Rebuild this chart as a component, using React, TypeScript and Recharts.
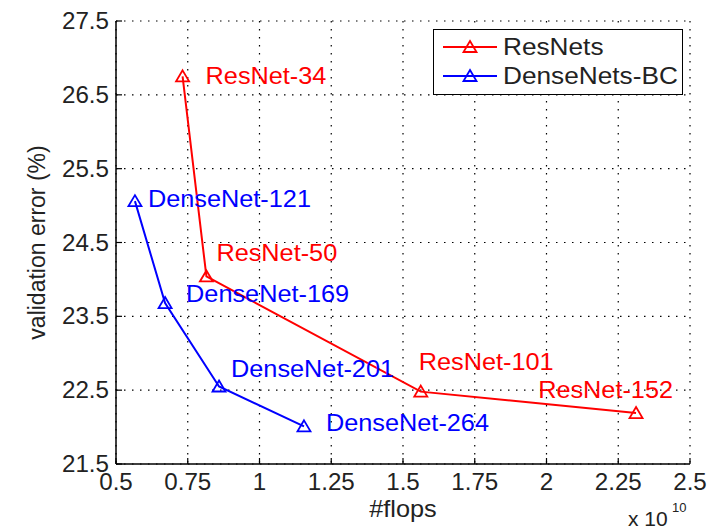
import { LineChart, Line, XAxis, YAxis, CartesianGrid, LabelList, Legend } from 'recharts';

const resnetNames = ['ResNet-34', 'ResNet-50', 'ResNet-101', 'ResNet-152'];
const resnetFlops = [0.732, 0.815, 1.562, 2.312];
const resnetError = [26.75, 24.04, 22.48, 22.19];

const densenetNames = ['DenseNet-121', 'DenseNet-169', 'DenseNet-201', 'DenseNet-264'];
const densenetFlops = [0.566, 0.671, 0.859, 1.155];
const densenetError = [25.06, 23.68, 22.55, 22.01];

const xTicks = [0.5, 0.75, 1, 1.25, 1.5, 1.75, 2, 2.25, 2.5];
const yTicks = [21.5, 22.5, 23.5, 24.5, 25.5, 26.5, 27.5];

// where each point's name sits relative to its marker: [dx, dy, anchor]
const resnetLabelPos: [number, number, string][] = [[23, 8, 'start'], [10, -15, 'start'], [-2, -22, 'start'], [37, -15, 'end']];
const densenetLabelPos: [number, number, string][] = [[13, 6, 'start'], [21, -1, 'start'], [12, -9, 'start'], [22, 5, 'start']];

const RED = '#ff0000';
const BLUE = '#0000ff';
const FONT = '"Liberation Sans", Arial, Helvetica, sans-serif';
const FS = 23;

const resnets = resnetFlops.map((f, i) => ({ flops: f, err: resnetError[i], name: resnetNames[i] }));
const densenets = densenetFlops.map((f, i) => ({ flops: f, err: densenetError[i], name: densenetNames[i] }));

function Txt({ x, y, children, anchor = 'start', fill = '#222', size = FS, sx = 1.1 }: any) {
  return (
    <text transform={`translate(${x},${y}) scale(${sx},1)`} textAnchor={anchor} fill={fill} fontSize={size} fontFamily={FONT}>
      {children}
    </text>
  );
}

function triangle(cx: number, cy: number) {
  return `M${cx},${cy - 6} L${cx + 6.5},${cy + 5} L${cx - 6.5},${cy + 5} Z`;
}

const makeDot = (color: string) => (props: any) => {
  const { cx, cy, index } = props;
  return <path key={index} d={triangle(cx, cy)} fill="none" stroke={color} strokeWidth={1.8} />;
};

const makeLabel = (names: string[], pos: [number, number, string][], color: string) => (props: any) => {
  const { x, y, index } = props;
  const [dx, dy, anchor] = pos[index];
  return (
    <Txt key={index} x={x + dx} y={y + dy} anchor={anchor} fill={color}>
      {names[index]}
    </Txt>
  );
};

const BottomTick = ({ x, y, payload }: any) => (
  <g>
    <line x1={x} x2={x} y1={y} y2={y - 6} stroke="#000" strokeWidth={1.2} />
    <Txt x={x} y={y + 26} anchor="middle" sx={1.05}>{payload.value}</Txt>
  </g>
);

const TopTick = ({ x, y }: any) => <line x1={x} x2={x} y1={y} y2={y + 6} stroke="#000" strokeWidth={1.2} />;

const LeftTick = ({ x, y, payload }: any) => (
  <g>
    <line x1={x} x2={x + 6} y1={y} y2={y} stroke="#000" strokeWidth={1.2} />
    <Txt x={x - 7} y={y + 8} anchor="end" sx={1.05}>{payload.value}</Txt>
  </g>
);

const RightTick = ({ x, y }: any) => <line x1={x} x2={x - 6} y1={y} y2={y} stroke="#000" strokeWidth={1.2} />;

const XTitle = ({ viewBox }: any) => {
  const { x, y, width } = viewBox;
  return (
    <g>
      <Txt x={x + width / 2} y={y + 53} anchor="middle">#flops</Txt>
      <Txt x={x + 512} y={y + 62} size={20} sx={1.05}>x 10</Txt>
      <Txt x={x + 556} y={y + 48} size={13} sx={1}>10</Txt>
    </g>
  );
};

const YTitle = ({ viewBox }: any) => {
  const { y, height } = viewBox;
  const cy = y + height / 2;
  return (
    <text transform={`translate(45,${cy}) rotate(-90)`} textAnchor="middle" fill="#222" fontSize={FS} fontFamily={FONT}>
      validation error (%)
    </text>
  );
};

const renderLegend = () => (
  <div style={{ width: 250, height: 66, border: '1.5px solid #000', background: '#fff', boxSizing: 'border-box' }}>
    <svg width={247} height={63} style={{ display: 'block' }}>
      <line x1={9} x2={63} y1={17} y2={17} stroke={RED} strokeWidth={2} />
      <path d={triangle(36, 17)} fill="none" stroke={RED} strokeWidth={1.8} />
      <Txt x={69} y={25} sx={1.14}>ResNets</Txt>
      <line x1={9} x2={63} y1={46} y2={46} stroke={BLUE} strokeWidth={2} />
      <path d={triangle(36, 46)} fill="none" stroke={BLUE} strokeWidth={1.8} />
      <Txt x={69} y={54} sx={1.14}>DenseNets-BC</Txt>
    </svg>
  </div>
);

export default function App() {
  return (
    <div style={{ position: 'absolute', left: 0, top: 0, background: '#fff' }}>
      <LineChart width={710} height={529} margin={{ top: 21, right: 20, bottom: 0, left: 0 }}>
        <CartesianGrid stroke="#000" strokeDasharray="1.5 6.5" strokeWidth={1.2} />
        <XAxis
          dataKey="flops"
          type="number"
          domain={[0.5, 2.5]}
          ticks={xTicks}
          interval={0}
          height={65}
          tickSize={0}
          tickMargin={0}
          tickLine={false}
          tick={<BottomTick />}
          axisLine={{ stroke: '#000', strokeWidth: 1.5 }}
          label={<XTitle />}
        />
        <XAxis
          xAxisId="top"
          orientation="top"
          type="number"
          domain={[0.5, 2.5]}
          ticks={xTicks}
          interval={0}
          height={0}
          tickSize={0}
          tickMargin={0}
          tickLine={false}
          tick={<TopTick />}
          axisLine={{ stroke: '#000', strokeWidth: 1.5 }}
        />
        <YAxis
          type="number"
          domain={[21.5, 27.5]}
          ticks={yTicks}
          interval={0}
          width={116}
          tickSize={0}
          tickMargin={0}
          tickLine={false}
          tick={<LeftTick />}
          axisLine={{ stroke: '#000', strokeWidth: 1.5 }}
          label={<YTitle />}
        />
        <YAxis
          yAxisId="right"
          orientation="right"
          type="number"
          domain={[21.5, 27.5]}
          ticks={yTicks}
          interval={0}
          width={0}
          tickSize={0}
          tickMargin={0}
          tickLine={false}
          tick={<RightTick />}
          axisLine={{ stroke: '#000', strokeWidth: 1.5 }}
        />
        <Legend
          layout="vertical"
          align="center"
          verticalAlign="middle"
          width={250}
          height={66}
          content={renderLegend}
          wrapperStyle={{ left: 433, top: 29, width: 250, height: 66 }}
        />
        <Line
          data={resnets}
          dataKey="err"
          stroke={RED}
          strokeWidth={2}
          dot={makeDot(RED)}
          isAnimationActive={false}
        >
          <LabelList dataKey="name" content={makeLabel(resnetNames, resnetLabelPos, RED)} />
        </Line>
        <Line
          data={densenets}
          dataKey="err"
          stroke={BLUE}
          strokeWidth={2}
          dot={makeDot(BLUE)}
          isAnimationActive={false}
        >
          <LabelList dataKey="name" content={makeLabel(densenetNames, densenetLabelPos, BLUE)} />
        </Line>
      </LineChart>
    </div>
  );
}
